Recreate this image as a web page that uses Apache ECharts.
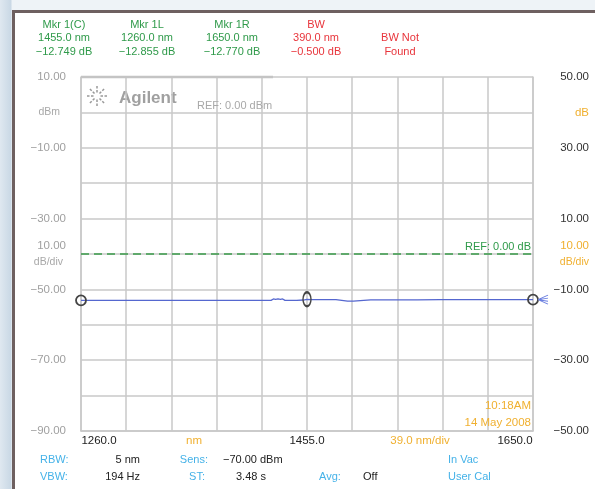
<!DOCTYPE html>
<html><head><meta charset="utf-8">
<script src="https://cdn.jsdelivr.net/npm/echarts@6/dist/echarts.min.js"></script>
<style>
html,body{margin:0;padding:0;width:595px;height:489px;overflow:hidden;
background:linear-gradient(90deg,#dfe8f0 0px,#c9d8e5 11px,#eef3f7 12px);}
#c{width:595px;height:489px;}
</style></head><body><div id="c"></div>
<script>
// ---- data ----
const wavelengthNm = [1260,1280,1300,1320,1340,1360,1380,1400,1420,1424,1426,1428,1430,1432,1434,1436,1440,1446,1452,1455,1458,1462,1470,1480,1481,1490,1495,1496,1510,1530,1550,1570,1590,1610,1630,1650];
const powerDbm     = [-53.1,-53.1,-53.1,-53.1,-53.1,-53.1,-53.1,-53.1,-53.1,-53.1,-52.7,-52.8,-52.7,-52.8,-52.7,-53.1,-53.1,-53.1,-53.0,-52.8,-52.9,-52.9,-52.9,-52.9,-53.3,-53.3,-53.3,-52.95,-52.95,-52.95,-52.95,-52.9,-52.9,-52.9,-52.9,-52.9];
const markerNm   = [1260, 1455, 1650];
const markerDbm  = [-53.1, -52.8, -52.9];
const xGridNm    = [1260,1299,1338,1377,1416,1455,1494,1533,1572,1611,1650];
const xLabelNm   = [1260,1357.5,1455,1552.5,1650];
const xLabelText = {1260:'1260.0',1357.5:'nm',1455:'1455.0',1552.5:'39.0 nm/div',1650:'1650.0'};
const leftTicks  = {10:'10.00',0:'dBm','-10':'−10.00','-20':'','-30':'−30.00','-40':'10.00\ndB/div','-50':'−50.00','-60':'','-70':'−70.00','-80':'','-90':'−90.00'};
const rightTicks = {50:'50.00',40:'dB',30:'30.00',20:'',10:'10.00',0:'10.00\ndB/div','-10':'−10.00','-20':'','-30':'−30.00','-40':'','-50':'−50.00'};
const refDb = 0;
const header = [
  ['Mkr 1(C)','1455.0 nm','−12.749 dB'],
  ['Mkr 1L','1260.0 nm','−12.855 dB'],
  ['Mkr 1R','1650.0 nm','−12.770 dB'],
  ['BW','390.0 nm','−0.500 dB'],
  ['','BW Not','Found']
];

const GREEN='#2f9a4a', RED='#e8353c', ORANGE='#f0b030', CYAN='#45b2e8', GRID='#c8c8c8';
const FONT='Liberation Sans, Arial, sans-serif';
const chart = echarts.init(document.getElementById('c'), null, {renderer:'canvas'});

const g = [];
// panel frame
g.push({type:'rect', shape:{x:13.5,y:11.5,width:600,height:500}, style:{fill:'#fff',stroke:'#6e6060',lineWidth:3}, z:-10});
// header
const colX=[64,147,232,316,400], rowY=[25,38,52];
header.forEach((col,i)=>col.forEach((t,j)=>{
  g.push({type:'text', x:colX[i], y:rowY[j], style:{text:t, fill: i>=3?RED:GREEN, font:'11px '+FONT, align:'center', verticalAlign:'middle'}});
}));
// plot top thicker bar
g.push({type:'line', shape:{x1:81,y1:77,x2:273,y2:77}, style:{stroke:'#c4c4c4',lineWidth:2.5}, z:5});
// Agilent logo
const cx=97, cy=96;
for(let k=0;k<8;k++){
  const a=k*Math.PI/4;
  g.push({type:'line', shape:{x1:cx+Math.cos(a)*3.5,y1:cy+Math.sin(a)*3.5,x2:cx+Math.cos(a)*10.5,y2:cy+Math.sin(a)*10.5}, style:{stroke:'#999',lineWidth:1.5,lineDash:[2.5,1.5]}});
}
g.push({type:'text', x:119, y:98, style:{text:'Agilent', fill:'#a0a0a0', font:'bold 17px '+FONT, verticalAlign:'middle'}});
g.push({type:'text', x:197, y:106, style:{text:'REF: 0.00 dBm', fill:'#a8a8a8', font:'11px '+FONT, verticalAlign:'middle'}, z:10});
// timestamp
g.push({type:'text', x:531, y:406, style:{text:'10:18AM', fill:ORANGE, font:'11.5px '+FONT, align:'right', verticalAlign:'middle'}, z:10});
g.push({type:'text', x:531, y:423, style:{text:'14 May 2008', fill:ORANGE, font:'11.5px '+FONT, align:'right', verticalAlign:'middle'}, z:10});
// bottom status
const st=(t,x,y,c,al)=>g.push({type:'text', x:x, y:y, style:{text:t, fill:c, font:'11px '+FONT, align:al||'left', verticalAlign:'middle'}});
st('RBW:',40,460,CYAN); st('VBW:',40,477,CYAN);
st('5 nm',140,460,'#222','right'); st('194 Hz',140,477,'#222','right');
st('Sens:',208,460,CYAN,'right'); st('ST:',205,477,CYAN,'right');
st('−70.00 dBm',223,460,'#222'); st('3.48 s',236,477,'#222');
st('Avg:',319,477,CYAN); st('Off',363,477,'#222');
st('In Vac',448,460,CYAN); st('User Cal',448,477,CYAN);

const option = {
  backgroundColor:'transparent',
  animation:false,
  graphic:g,
  grid:{left:81, top:77, width:452, height:354, show:false},
  xAxis:[{
    type:'value', min:1260, max:1650, position:'bottom',
    axisLine:{show:true, onZero:false, lineStyle:{color:GRID, width:1.5}},
    axisTick:{show:false, customValues:xGridNm},
    splitLine:{show:true, lineStyle:{color:GRID, width:1.5}},
    axisLabel:{customValues:xLabelNm, margin:4, fontFamily:FONT, fontSize:11.5, color:'#222',
      formatter:v=>{const t=xLabelText[v]; if(t==='nm'||t==='39.0 nm/div') return '{o|'+t+'}'; if(v===1260) return '{l|'+t+'}'; if(v===1650) return '{r|'+t+'}'; return t;},
      rich:{o:{color:ORANGE,fontSize:11.5,fontFamily:FONT}, l:{padding:[0,0,0,36],fontSize:11.5,fontFamily:FONT,color:'#222'}, r:{padding:[0,36,0,0],fontSize:11.5,fontFamily:FONT,color:'#222'}}}
  }],
  yAxis:[{
    type:'value', min:-90, max:10, interval:10, position:'left',
    axisLine:{show:true, lineStyle:{color:GRID, width:1.5}}, axisTick:{show:false},
    splitLine:{show:true, lineStyle:{color:GRID, width:1.5}},
    axisLabel:{margin:15, fontFamily:FONT, fontSize:11.5, color:'#a0a0a0', lineHeight:17,
      formatter:v=>{const t=leftTicks[v]; if(t==='dBm') return '{u|dBm}'; if(t && t.indexOf('div')>=0) return '{d|10.00}\n{e|dB/div}'; return t||'';},
      rich:{u:{padding:[0,6,0,0],fontSize:10.5,color:'#a8a8a8',fontFamily:FONT}, d:{fontSize:11.5,color:'#a0a0a0',fontFamily:FONT,lineHeight:17}, e:{fontSize:10.5,color:'#a8a8a8',fontFamily:FONT,lineHeight:17,padding:[0,3,0,0]}}}
  },{
    type:'value', min:-50, max:50, interval:10, position:'right',
    axisLine:{show:true, lineStyle:{color:GRID, width:1.5}}, axisTick:{show:false}, splitLine:{show:false},
    axisLabel:{margin:56, align:'right', fontFamily:FONT, fontSize:11.5, color:'#333', lineHeight:17,
      formatter:v=>{const t=rightTicks[v]; if(t==='dB') return '{o|dB}'; if(t && t.indexOf('div')>=0) return '{o|10.00}\n{p|dB/div}'; return t||'';},
      rich:{o:{color:ORANGE,fontSize:11.5,fontFamily:FONT,lineHeight:17}, p:{color:ORANGE,fontSize:10.5,fontFamily:FONT,lineHeight:17}}}
  }],
  series:[{
    type:'line', xAxisIndex:0, yAxisIndex:0, showSymbol:false, silent:true,
    data: wavelengthNm.map((x,i)=>[x,powerDbm[i]]),
    lineStyle:{color:'#5567cf', width:1.3},
    markPoint:{silent:true, label:{show:false},
      data: markerNm.map((x,i)=>({coord:[x,markerDbm[i]], symbol:'circle', symbolSize: i===1?[8,14]:[10,10],
        itemStyle:{color:'rgba(0,0,0,0)', borderColor:'#444', borderWidth:1.8}})).concat([
        {coord:[markerNm[2],markerDbm[2]], symbol:'path://M0,5 L10,0 M0,5 L10,3.3 M0,5 L10,6.7 M0,5 L10,10', symbolSize:[10,9], symbolOffset:[10,0],
         itemStyle:{color:'none', borderColor:'#6a7ee0', borderWidth:1}}])
    }
  },{
    type:'line', xAxisIndex:0, yAxisIndex:1, data:[], silent:true,
    markLine:{silent:true, symbol:['none','none'],
      lineStyle:{color:'#3a9a4a', width:1.5, type:[8,5]},
      label:{show:true, position:'insideEndTop', formatter:'REF: 0.00 dB', color:GREEN, fontFamily:FONT, fontSize:11, distance:[2,2]},
      data:[{yAxis:refDb}]}
  }]
};
chart.setOption(option);
</script></body></html>
